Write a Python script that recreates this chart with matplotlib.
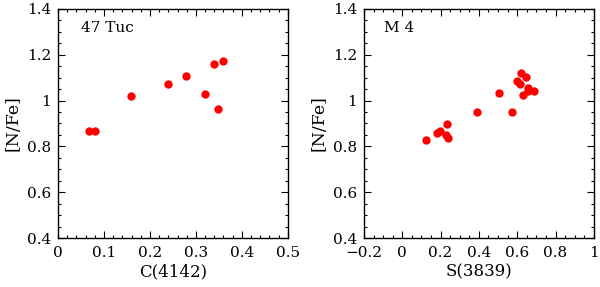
import matplotlib

matplotlib.use("Agg")
import matplotlib.pyplot as plt
from matplotlib.ticker import MultipleLocator, FuncFormatter

# 47 Tuc: C(4142) vs [N/Fe]
tuc_c4142 = [0.067, 0.080, 0.159, 0.239, 0.279, 0.320, 0.339, 0.359, 0.349]
tuc_nfe = [0.868, 0.868, 1.018, 1.073, 1.109, 1.029, 1.160, 1.172, 0.965]

# M 4: S(3839) vs [N/Fe]
m4_s3839 = [0.122, 0.179, 0.197, 0.231, 0.226, 0.237, 0.390, 0.506, 0.571,
            0.618, 0.645, 0.600, 0.614, 0.656, 0.687, 0.628, 0.654]
m4_nfe = [0.829, 0.857, 0.867, 0.896, 0.850, 0.838, 0.950, 1.033, 0.950,
          1.119, 1.104, 1.087, 1.072, 1.055, 1.043, 1.023, 1.042]

plt.rcParams["font.family"] = ["DejaVu Serif"]


def fmt(v, pos):
    s = f"{v:.1f}"
    if s.endswith(".0"):
        s = s[:-2]
    if s == "-0":
        s = "0"
    return s.replace("-", "\u2212")


def style(ax, xmaj, xmin):
    ax.set_ylim(0.4, 1.4)
    ax.xaxis.set_major_locator(MultipleLocator(xmaj))
    ax.xaxis.set_minor_locator(MultipleLocator(xmin))
    ax.yaxis.set_major_locator(MultipleLocator(0.2))
    ax.yaxis.set_minor_locator(MultipleLocator(0.05))
    ax.xaxis.set_major_formatter(FuncFormatter(fmt))
    ax.yaxis.set_major_formatter(FuncFormatter(fmt))
    ax.tick_params(which="both", direction="in", top=True, right=True, labelsize=11, width=0.8)
    ax.tick_params(which="major", length=5)
    ax.tick_params(axis="x", which="major", pad=6)
    ax.tick_params(axis="y", which="major", pad=5)
    ax.tick_params(which="minor", length=2.5)
    for sp in ax.spines.values():
        sp.set_linewidth(1.0)
    ax.set_ylabel("[N/Fe]", fontsize=12.5, labelpad=4)


fig = plt.figure(figsize=(6.0, 2.87), dpi=100)
ax1 = fig.add_axes([0.0967, 0.1707, 0.383, 0.798])
ax2 = fig.add_axes([0.6067, 0.1707, 0.383, 0.798])

ax1.plot(tuc_c4142, tuc_nfe, "o", color="#ff0000", markersize=6, markeredgewidth=0)
ax1.set_xlim(0, 0.5)
style(ax1, 0.1, 0.02)
ax1.set_xlabel("C(4142)", fontsize=12, labelpad=2)
ax1.text(0.1, 0.915, "47 Tuc", transform=ax1.transAxes, fontsize=11, va="center")

ax2.plot(m4_s3839, m4_nfe, "o", color="#ff0000", markersize=6, markeredgewidth=0)
ax2.set_xlim(-0.2, 1.0)
style(ax2, 0.2, 0.05)
ax2.set_xlabel("S(3839)", fontsize=12, labelpad=2)
ax2.text(0.087, 0.915, "M 4", transform=ax2.transAxes, fontsize=11, va="center")

fig.savefig("out.png", dpi=100)
